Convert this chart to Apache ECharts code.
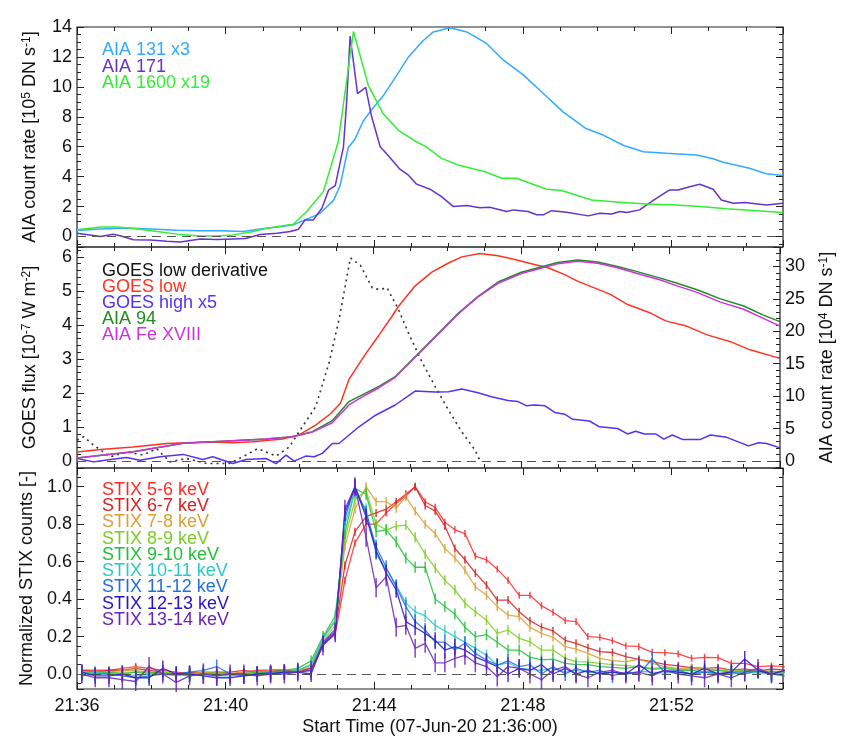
<!DOCTYPE html>
<html><head><meta charset="utf-8">
<script src="https://cdn.jsdelivr.net/npm/echarts@6/dist/echarts.min.js"></script>
<style>html,body{margin:0;padding:0;background:#fff}#c{width:844px;height:739px}</style>
</head><body><div id="c"></div>
<script>
// ---------- Panel 1: AIA (minutes after 21:36:00) ----------
const t131 = [0,0.63,1.16,1.5,1.97,2.7,3.3,3.86,4.47,4.93,5.47,5.82,6.22,6.54,6.9,7.08,7.3,7.48,7.7,7.97,8.21,8.48,8.69,8.92,9.32,9.59,10.04,10.49,11.02,11.47,12.01,12.55,13.08,13.71,14.16,14.7,15.24,15.86,16.67,17.12,17.39,18.1,18.55,19.0];
const v131 = [0.4,0.5,0.55,0.55,0.5,0.42,0.38,0.38,0.33,0.5,0.65,0.78,1.2,1.55,2.4,3.4,5.95,6.5,7.7,8.6,9.3,10.3,11.1,12.0,13.1,13.67,13.95,13.67,12.9,11.8,10.8,9.56,8.33,7.2,6.78,6.1,5.67,5.56,5.45,5.2,4.96,4.56,4.2,4.07];
const t171 = [0,0.63,0.98,1.16,1.52,1.97,2.42,2.78,3.32,3.76,4.21,4.53,4.93,5.38,5.74,5.96,6.14,6.36,6.59,6.77,6.95,7.17,7.26,7.35,7.55,7.77,7.93,8.16,8.38,8.69,8.92,9.14,9.5,9.81,10.13,10.49,10.84,11.11,11.56,11.74,12.14,12.37,12.55,12.77,13.18,13.76,14.07,14.39,14.61,14.79,15.14,15.6,15.95,16.18,16.49,16.76,17.12,17.34,17.66,17.97,18.55,19.0];
const v171 = [0.22,0.0,0.15,0.05,-0.22,-0.24,-0.31,-0.36,-0.16,-0.2,-0.16,-0.13,0.13,0.22,0.33,0.49,1.11,1.11,1.89,3.1,3.4,5.97,9.1,13.4,9.55,9.96,8.0,6.0,5.4,4.5,4.1,3.5,3.16,2.67,2.0,2.07,1.93,1.96,1.67,1.78,1.67,1.45,1.45,1.73,1.62,1.38,1.56,1.5,1.67,1.6,1.78,2.56,3.11,3.11,3.33,3.49,3.16,2.44,2.22,2.27,2.11,2.22];
const t1600 = [0,0.63,1.08,1.52,2.15,2.69,3.32,3.76,4.21,4.75,5.11,5.82,6.18,6.63,7.03,7.44,7.84,8.24,8.65,9.05,9.41,9.81,10.26,10.98,11.43,11.83,12.64,13.04,13.85,14.61,15.33,16.13,16.76,17.48,19.0];
const v1600 = [0.45,0.63,0.63,0.53,0.33,0.16,0.04,0.04,0.11,0.33,0.56,0.82,1.67,3.0,6.33,13.7,10.1,8.2,7.1,6.45,5.97,5.22,4.78,4.33,3.89,3.89,3.16,3.07,2.44,2.29,2.18,2.11,2.0,1.85,1.6];

// ---------- Panel 2: GOES + AIA ----------
const tGd = [0,0.18,0.45,0.9,1.34,1.79,2.15,2.51,2.96,3.5,4.12,4.57,4.88,5.38,5.74,6.0,6.45,6.81,7.08,7.39,7.66,7.98,8.16,8.38,8.69,8.96,9.32,9.68,10.04,10.4,10.76,10.9];
const vGd = [0.62,0.72,0.47,0.13,0.27,0.18,0.37,-0.02,0.08,-0.07,-0.07,0.18,0.37,0.15,0.42,0.86,1.6,2.88,4.15,5.97,5.75,5.09,5.04,5.09,4.45,3.76,2.92,2.19,1.5,0.86,0.32,0.0];
const tGl = [0,0.63,1.52,1.97,2.42,2.96,3.58,4.21,4.75,5.56,6.0,6.45,6.86,7.12,7.35,7.8,8.16,8.51,8.69,9.14,9.59,10.04,10.4,10.89,11.38,11.83,12.28,12.73,13.18,13.54,13.98,14.43,14.88,15.5,15.91,16.49,17.03,17.66,18.19,19.0];
const vGl = [0.27,0.34,0.42,0.47,0.52,0.54,0.56,0.54,0.57,0.65,0.77,1.06,1.4,1.7,2.4,3.15,3.7,4.25,4.55,5.15,5.55,5.82,6.0,6.1,6.03,5.92,5.8,5.68,5.48,5.28,5.09,4.89,4.6,4.35,4.12,3.96,3.71,3.51,3.27,3.02];
const tGh = [0,0.45,0.9,1.34,1.7,2.24,2.87,3.4,3.67,4.21,4.57,5.11,5.38,5.65,5.87,6.18,6.41,6.63,6.9,7.08,7.62,8.07,8.6,9.14,9.68,10.04,10.4,10.84,11.2,11.65,11.92,12.14,12.37,12.64,12.91,13.18,13.4,13.85,14.12,14.61,14.88,15.1,15.33,15.64,15.86,16.09,16.36,16.85,17.12,17.56,18.15,18.42,18.64,19.0];
const vGh = [0.08,-0.02,0.05,0.11,0.03,0.13,0.2,0.05,0.13,-0.07,0.05,0.08,-0.07,0.18,0.0,0.15,0.13,0.23,0.52,0.52,1.01,1.35,1.65,2.06,2.03,2.04,2.12,2.01,1.89,1.78,1.75,1.63,1.65,1.63,1.43,1.38,1.23,1.18,1.01,0.96,0.8,0.88,0.8,0.8,0.65,0.77,0.64,0.64,0.77,0.7,0.45,0.54,0.52,0.39];
const t94 = [0,1.52,2.87,4.21,5.11,5.82,6.36,6.9,7.35,7.71,8.16,8.6,9.23,9.77,10.31,10.84,11.38,12.01,12.46,12.99,13.53,14.07,14.61,15.14,15.77,16.22,16.76,17.39,18.02,18.55,19.0];
const v94 = [0.45,1.44,2.73,3.13,3.4,3.75,4.52,6.22,9.16,10.2,11.5,13.0,16.6,19.7,22.8,25.4,27.6,29.1,29.8,30.6,31.0,30.7,30.0,29.2,28.2,27.4,26.4,25.0,23.9,22.5,21.5];
const vFe = [0.45,1.44,2.73,3.13,3.4,3.75,4.45,5.9,8.65,9.9,11.3,12.9,16.5,19.6,22.7,25.3,27.4,28.9,29.6,30.4,30.8,30.5,29.8,28.9,27.9,27.0,26.0,24.5,23.4,22.0,20.8];

// ---------- Panel 3: STIX normalized counts ----------
const tStix = [0.13,0.49,0.86,1.22,1.58,1.94,2.31,2.67,3.03,3.40,3.76,4.12,4.49,4.85,5.21,5.58,5.94,6.30,6.62,6.95,7.21,7.48,7.78,8.05,8.32,8.59,8.85,9.10,9.37,9.64,9.90,10.17,10.44,10.72,11.02,11.31,11.60,11.90,12.19,12.50,12.81,13.14,13.43,13.75,14.07,14.41,14.77,15.12,15.48,15.82,16.18,16.54,16.89,17.25,17.61,17.97,18.33,18.69,19.05];
const s5_6 = [0.02,0.02,0.02,0.03,0.04,0.03,0.02,0.01,0.0,0.01,0.01,0.0,0.01,0.02,0.02,0.02,0.02,0.03,0.16,0.21,0.50,0.70,0.80,0.80,0.86,0.91,0.95,1.0,0.92,0.89,0.81,0.77,0.75,0.63,0.61,0.56,0.50,0.42,0.42,0.365,0.33,0.285,0.28,0.20,0.196,0.178,0.15,0.146,0.116,0.114,0.107,0.084,0.089,0.087,0.057,0.057,0.039,0.043,0.04];
const s6_7 = [0.02,0.01,0.02,0.02,0.03,0.02,0.01,0.0,0.01,0.0,0.01,0.01,0.02,0.01,0.02,0.02,0.01,0.03,0.17,0.23,0.58,0.76,0.84,0.86,0.88,0.92,0.96,1.0,0.90,0.87,0.79,0.67,0.61,0.54,0.475,0.395,0.395,0.333,0.285,0.25,0.23,0.18,0.164,0.14,0.12,0.115,0.093,0.078,0.066,0.052,0.043,0.034,0.03,0.034,0.021,0.027,0.016,0.027,0.02];
const s7_8 = [0.01,0.01,0.01,0.02,0.02,0.01,0.01,0.0,0.0,0.01,0.0,0.0,0.01,0.01,0.02,0.01,0.02,0.04,0.18,0.26,0.68,0.88,1.0,0.92,0.92,0.885,0.947,0.87,0.80,0.75,0.67,0.62,0.555,0.466,0.42,0.36,0.315,0.306,0.25,0.217,0.196,0.146,0.133,0.11,0.084,0.071,0.066,0.078,0.057,0.04,0.03,0.03,0.025,0.02,0.02,0.015,0.02,0.015,0.01];
const s8_9 = [0.01,0.0,0.01,0.01,0.01,0.0,0.01,0.0,0.0,0.0,0.01,0.0,0.0,0.01,0.01,0.01,0.02,0.05,0.19,0.29,0.72,0.93,0.98,0.80,0.77,0.79,0.795,0.73,0.64,0.565,0.50,0.45,0.378,0.333,0.288,0.217,0.235,0.19,0.172,0.128,0.128,0.084,0.066,0.065,0.057,0.05,0.045,0.04,0.03,0.035,0.025,0.02,0.03,0.02,0.015,0.02,0.01,0.015,0.01];
const s9_10 = [0.01,0.01,0.01,0.0,0.01,0.01,0.0,0.0,-0.01,0.0,0.0,0.0,0.0,0.01,0.01,0.02,0.03,0.07,0.20,0.31,0.75,0.99,0.96,0.76,0.77,0.706,0.62,0.57,0.57,0.40,0.36,0.32,0.25,0.20,0.21,0.17,0.128,0.128,0.09,0.075,0.08,0.057,0.05,0.05,0.04,0.035,0.03,0.04,0.025,0.03,0.02,0.02,0.01,0.02,0.01,0.015,0.01,0.01,0.01];
const s10_11 = [0.0,0.01,0.0,0.0,-0.01,0.0,0.0,-0.01,0.0,0.0,-0.01,-0.01,0.0,0.0,0.0,0.01,0.02,0.05,0.19,0.28,0.80,0.97,0.88,0.64,0.56,0.475,0.38,0.333,0.31,0.26,0.23,0.20,0.17,0.137,0.10,0.048,0.06,0.03,0.025,0.02,0.03,0.01,0.02,0.01,0.005,0.01,0.0,0.015,0.01,0.005,0.01,0.0,0.01,0.005,0.0,0.01,0.005,0.0,0.005];
const s11_12 = [-0.01,0.0,0.0,-0.01,-0.02,-0.01,0.0,0.0,0.01,0.02,0.04,0.0,-0.01,0.0,0.01,0.01,0.01,0.02,0.17,0.24,0.83,1.0,0.86,0.68,0.57,0.466,0.36,0.28,0.235,0.17,0.17,0.128,0.164,0.11,0.075,0.048,0.07,0.04,0.05,0.0,0.04,0.0,0.03,0.01,0.02,-0.01,0.01,0.0,0.08,0.01,0.02,0.0,0.01,0.0,0.01,0.0,0.02,0.0,-0.01];
const s12_13 = [0.01,-0.01,-0.01,0.0,-0.02,-0.02,0.03,0.0,0.0,-0.01,-0.02,-0.02,-0.01,0.0,0.0,0.01,0.01,0.0,0.16,0.22,0.86,1.0,0.84,0.66,0.54,0.45,0.28,0.25,0.217,0.18,0.128,0.146,0.128,0.092,0.066,0.039,0.0,0.03,0.02,0.05,0.0,0.03,0.0,0.02,0.0,0.01,0.0,0.05,0.0,0.02,0.01,0.0,0.03,0.0,0.01,0.08,0.02,0.0,0.02];
const s13_14 = [0.0,-0.02,-0.02,-0.03,-0.04,0.04,0.0,-0.045,-0.01,0.0,-0.01,0.0,0.0,-0.01,0.0,0.0,0.01,0.02,0.15,0.22,0.88,1.0,0.73,0.46,0.52,0.25,0.26,0.137,0.164,0.06,0.06,0.084,0.10,0.06,0.04,-0.015,0.04,0.03,0.0,-0.03,0.02,0.04,0.0,-0.02,0.01,0.02,0.0,0.01,-0.01,0.02,0.0,-0.01,-0.02,0.0,-0.02,0.01,0.03,0.0,0.02];

const stixNames = ['STIX 5-6 keV','STIX 6-7 keV','STIX 7-8 keV','STIX 8-9 keV','STIX 9-10 keV','STIX 10-11 keV','STIX 11-12 keV','STIX 12-13 keV','STIX 13-14 keV'];
const stixValues = [s5_6,s6_7,s7_8,s8_9,s9_10,s10_11,s11_12,s12_13,s13_14];
const stixColors = ['#ff2a2a','#d42222','#d9a035','#7ccc22','#22c03a','#2cc8c8','#1f6fe0','#2814c8','#6a24b8'];
const stixBar = [7,8,9,10,11,12,14,16,19];

const tickMinutes = [0,4,8,12,16];

// ---------- build ----------
const FONT = '"Liberation Sans", Arial, Helvetica, sans-serif';
const TXT = '#111';
const zip = (t, v) => t.map((x, i) => [x, v[i]]);
const chart = echarts.init(document.getElementById('c'), null, {renderer: 'canvas'});

const gridBox = [
  {top: 27, height: 220},
  {top: 247, height: 221},
  {top: 468, height: 221}
];
const grid = gridBox.map(b => ({left: 77, right: 61, top: b.top, height: b.height, show: true,
  borderColor: '#222', borderWidth: 1.2, backgroundColor: 'transparent', containLabel: false}));

const xAxis = [];
gridBox.forEach((b, g) => {
  ['bottom', 'top'].forEach(pos => {
    xAxis.push({gridIndex: g, type: 'value', min: 0, max: 19, interval: 1, position: pos,
      axisLine: {show: false, onZero: false}, splitLine: {show: false},
      axisTick: {inside: true, length: 4, lineStyle: {color: '#222', width: 1}},
      axisLabel: {show: g === 2 && pos === 'bottom', fontSize: 18, color: TXT, fontFamily: FONT, margin: 8,
        formatter: v => tickMinutes.indexOf(v) >= 0 ? '21:' + (36 + v) : ''},
      name: (g === 2 && pos === 'bottom') ? 'Start Time (07-Jun-20 21:36:00)' : '',
      nameLocation: 'middle', nameGap: 29,
      nameTextStyle: {fontSize: 18, color: TXT, fontFamily: FONT}});
    xAxis.push({gridIndex: g, type: 'value', min: 0, max: 19, interval: 4, position: pos,
      axisLine: {show: false, onZero: false}, splitLine: {show: false},
      axisTick: {inside: true, length: 7, lineStyle: {color: '#222', width: 1}},
      axisLabel: {show: false}});
  });
});

const nameStyle = {fontSize: 18, color: TXT, fontFamily: FONT,
  rich: {s: {fontSize: 12, color: TXT, fontFamily: FONT, verticalAlign: 'top', lineHeight: 14}}};
function yAx(g, pos, o) {
  return Object.assign({gridIndex: g, type: 'value', position: pos,
    axisLine: {show: false, onZero: false}, splitLine: {show: false},
    axisTick: {inside: true, length: 7, lineStyle: {color: '#222', width: 1}},
    minorTick: {show: true, splitNumber: o.minor, length: 4, lineStyle: {color: '#222', width: 1}},
    minorSplitLine: {show: false},
    axisLabel: {show: !!o.labels, fontSize: 18, color: TXT, fontFamily: FONT, margin: 5,
      showMinLabel: false, showMaxLabel: !!o.showMax, formatter: o.fmt},
    nameLocation: 'middle', nameRotate: 90, nameGap: o.gap || 38, nameTextStyle: nameStyle}, o.ax);
}
const yAxis = [
  yAx(0, 'left', {minor: 4, labels: true, showMax: true, ax: {min: -0.7, max: 14, splitNumber: 7, name: 'AIA count rate [10{s|5} DN s{s|-1}]'}}),
  yAx(0, 'right', {minor: 4, labels: false, ax: {min: -0.7, max: 14, splitNumber: 7}}),
  yAx(1, 'left', {minor: 5, labels: true, ax: {min: -0.2, max: 6.29, splitNumber: 6, name: 'GOES flux [10{s|-7} W m{s|-2}]'}}),
  yAx(1, 'right', {minor: 5, labels: true, ax: {min: -1.08, max: 33.0, splitNumber: 7, name: 'AIA count rate [10{s|4} DN s{s|-1}]'}}),
  yAx(2, 'left', {minor: 4, labels: true, fmt: v => v.toFixed(1), ax: {min: -0.08, max: 1.1, splitNumber: 6, name: 'Normalized STIX counts [-]'}}),
  yAx(2, 'right', {minor: 4, labels: false, ax: {min: -0.08, max: 1.1, splitNumber: 6}})
];

const zeroLine = {silent: true, symbol: 'none', label: {show: false}, animation: false,
  lineStyle: {type: [9, 6], color: '#555', width: 1.2}, data: [{yAxis: 0}]};

function line(name, data, color, xi, yi, extra) {
  return Object.assign({name, type: 'line', data, xAxisIndex: xi, yAxisIndex: yi,
    showSymbol: false, lineStyle: {color, width: 1.5}, itemStyle: {color}, animation: false, z: 3}, extra || {});
}

const series = [
  line('AIA 131 x3', zip(t131, v131), '#33aaff', 0, 0, {markLine: zeroLine}),
  line('AIA 171', zip(t171, v171), '#6633cc', 0, 0),
  line('AIA 1600 x19', zip(t1600, v1600), '#33ee33', 0, 0),
  line('GOES low derivative', zip(tGd, vGd), '#333', 4, 2, {lineStyle: {color: '#333', width: 1.6, type: [2, 4]}, markLine: zeroLine}),
  line('GOES low', zip(tGl, vGl), '#ff3322', 4, 2),
  line('GOES high x5', zip(tGh, vGh), '#5533ee', 4, 2),
  line('AIA 94', zip(t94, v94), '#228b22', 4, 3),
  line('AIA Fe XVIII', zip(t94, vFe), '#cc33dd', 4, 3)
];
stixNames.forEach((n, i) => {
  series.push({name: n, type: 'line', data: zip(tStix, stixValues[i]), xAxisIndex: 8, yAxisIndex: 4,
    showSymbol: true, showAllSymbol: true, symbol: 'rect', symbolSize: [1.5, stixBar[i]],
    lineStyle: {color: stixColors[i], width: 1.3, opacity: 0.85},
    itemStyle: {color: stixColors[i], opacity: 0.85}, animation: false,
    markLine: i === 0 ? zeroLine : undefined});
});

const legends = [
  {x: 102, y0: 50, dy: 16.7, items: [['AIA 131 x3', '#33aaff'], ['AIA 171', '#6633cc'], ['AIA 1600 x19', '#33ee33']]},
  {x: 102, y0: 270.7, dy: 16.1, items: [['GOES low derivative', '#111'], ['GOES low', '#ff3322'], ['GOES high x5', '#5533ee'], ['AIA 94', '#228b22'], ['AIA Fe XVIII', '#cc33dd']]},
  {x: 102, y0: 490, dy: 16.25, items: stixNames.map((n, i) => [n, stixColors[i]])}
];
const graphic = [];
legends.forEach(L => L.items.forEach((it, k) => graphic.push({type: 'text', x: L.x, y: L.y0 + k * L.dy, z: 10,
  style: {text: it[0], fill: it[1], font: '18px ' + FONT, verticalAlign: 'middle'}})));

chart.setOption({animation: false, backgroundColor: '#fff', grid, xAxis, yAxis, series, graphic});
</script></body></html>
